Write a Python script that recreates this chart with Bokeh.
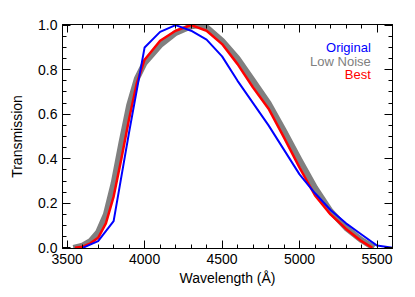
from bokeh.plotting import figure
from bokeh.models import LinearAxis, Range1d, Label, FixedTicker, CustomJSTickFormatter
from bokeh.embed import file_html
from bokeh.resources import INLINE

# ---- data ----
orig_wl = [3600, 3700, 3800, 3900, 4000, 4100, 4200, 4300, 4400, 4500, 4600,
           4700, 4800, 4900, 5000, 5100, 5200, 5300, 5400, 5500, 5600]
orig_tr = [0.0, 0.03, 0.12, 0.52, 0.90, 0.97, 1.0, 0.975, 0.935, 0.86, 0.75,
           0.65, 0.55, 0.44, 0.33, 0.245, 0.17, 0.11, 0.06, 0.01, 0.0]

low_wl = [3540, 3600, 3650, 3700, 3750, 3800, 3850, 3900, 3950, 4000, 4100, 4200,
          4300, 4350, 4400, 4500, 4600, 4700, 4800, 4900, 5000, 5100, 5200, 5300,
          5400, 5480]
low_tr = [0.0, 0.01, 0.03, 0.07, 0.15, 0.29, 0.47, 0.64, 0.76, 0.83, 0.91, 0.965,
          0.995, 1.0, 0.99, 0.93, 0.85, 0.75, 0.65, 0.525, 0.395, 0.27, 0.165, 0.09,
          0.035, 0.0]

best_wl = [3550, 3600, 3650, 3700, 3750, 3800, 3850, 3900, 3950, 4000, 4100, 4200,
           4300, 4400, 4500, 4600, 4700, 4800, 4900, 5000, 5100, 5200, 5300, 5400, 5470]
best_tr = [0.0, 0.005, 0.02, 0.045, 0.11, 0.23, 0.40, 0.58, 0.74, 0.845, 0.93, 0.975,
           1.0, 0.975, 0.915, 0.825, 0.72, 0.625, 0.495, 0.36, 0.235, 0.15, 0.085, 0.03, 0.0]

legend_labels = ["Original", "Low Noise", "Best"]
legend_colors = ["#0000ff", "#808080", "#ff0000"]
legend_y = [0.90, 0.835, 0.78]

x_ticks = [3500, 4000, 4500, 5000, 5500]
x_minor = list(range(3500, 5601, 100))
y_ticks = [0.0, 0.2, 0.4, 0.6, 0.8, 1.0]
y_minor = [0.0, 0.05, 0.1, 0.15, 0.2, 0.25, 0.3, 0.35, 0.4, 0.45, 0.5,
           0.55, 0.6, 0.65, 0.7, 0.75, 0.8, 0.85, 0.9, 0.95, 1.0]

FONT = "Liberation Sans"

p = figure(width=400, height=290, output_backend="svg", toolbar_location=None,
           x_range=Range1d(3470, 5600), y_range=Range1d(-0.003, 1.003),
           x_axis_location=None, y_axis_location=None)
p.min_border_left = 62
p.min_border_right = 8
p.min_border_top = 24
p.min_border_bottom = 42
p.grid.visible = False
p.outline_line_color = "black"
p.outline_line_width = 1
p.background_fill_color = "white"
p.border_fill_color = "white"

blank = CustomJSTickFormatter(code="return '';")

def style_axis(ax, labels=True):
    ax.major_tick_in = 8
    ax.major_tick_out = 0
    ax.minor_tick_in = 4
    ax.minor_tick_out = 0
    ax.axis_line_color = "black"
    ax.major_tick_line_color = "black"
    ax.minor_tick_line_color = "black"
    ax.major_label_text_font = FONT
    ax.major_label_text_font_size = "14px"
    ax.major_label_text_color = "black"
    ax.axis_label_text_font = FONT
    ax.axis_label_text_font_size = "14px"
    ax.axis_label_text_font_style = "normal"
    ax.axis_label_text_color = "black"
    if not labels:
        ax.formatter = blank
        ax.major_label_standoff = 0

xb = LinearAxis(axis_label="Wavelength (Å)")
xb.ticker = FixedTicker(ticks=x_ticks, minor_ticks=x_minor)
style_axis(xb)
xb.major_label_standoff = 5
xb.axis_label_standoff = 3
p.add_layout(xb, "below")

xt = LinearAxis()
xt.ticker = FixedTicker(ticks=x_ticks, minor_ticks=x_minor)
style_axis(xt, labels=False)
p.add_layout(xt, "above")

yl = LinearAxis(axis_label="Transmission")
yl.ticker = FixedTicker(ticks=y_ticks, minor_ticks=y_minor)
style_axis(yl)
yl.formatter = CustomJSTickFormatter(code="return tick.toFixed(1);")
yl.major_label_standoff = 5
yl.axis_label_standoff = 10
p.add_layout(yl, "left")

yr = LinearAxis()
yr.ticker = FixedTicker(ticks=y_ticks, minor_ticks=y_minor)
style_axis(yr, labels=False)
p.add_layout(yr, "right")

# curves
p.line(low_wl, low_tr, line_color="#808080", line_width=6, line_join="round")
p.line(best_wl, best_tr, line_color="#ff0000", line_width=2.5, line_join="round")
p.line(orig_wl, orig_tr, line_color="#0000ff", line_width=2, line_join="round")

for lab, col, yy in zip(legend_labels, legend_colors, legend_y):
    p.add_layout(Label(x=5460, y=yy, text=lab, text_color=col, text_align="right",
                       text_baseline="middle", text_font=FONT, text_font_size="13px"))

open("out.html", "w").write(file_html(p, INLINE))
